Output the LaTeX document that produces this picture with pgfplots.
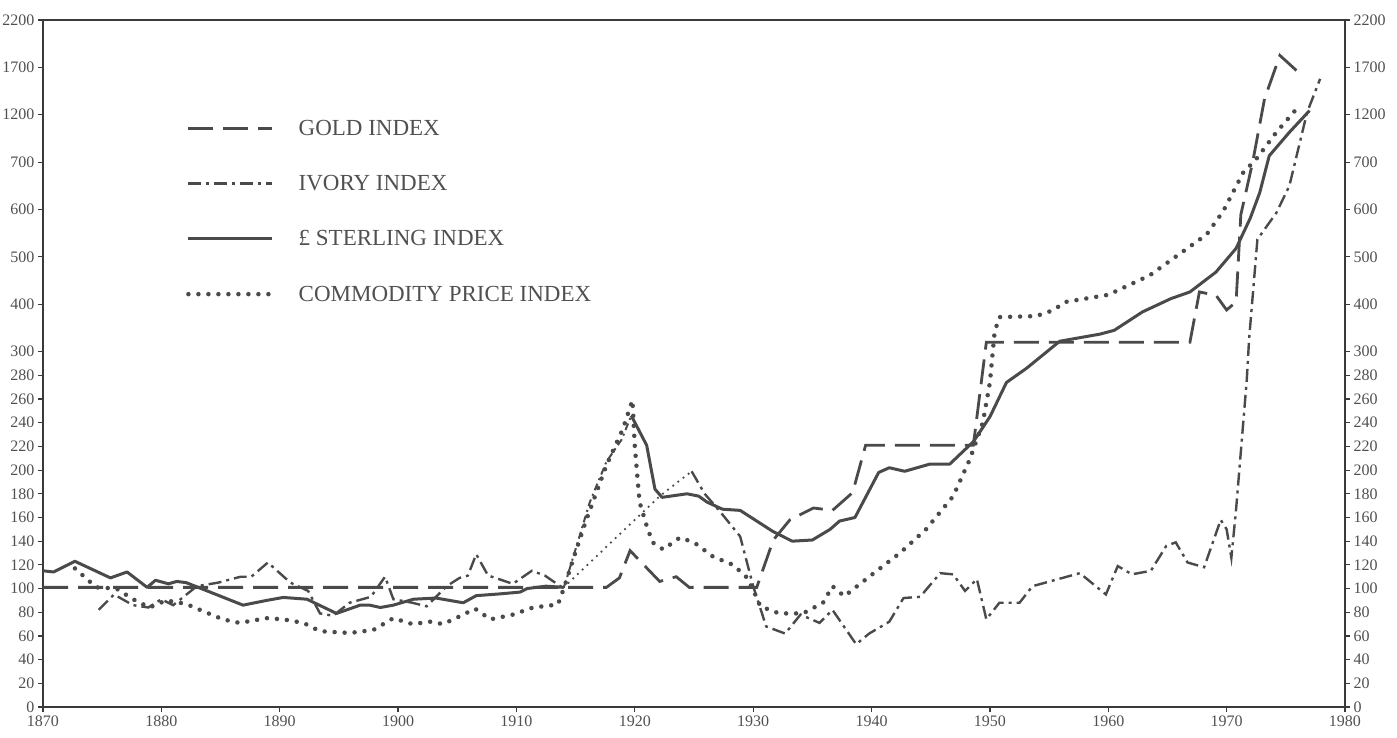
\documentclass[border=0pt]{standalone}
\usepackage{pgfplots}
\pgfplotsset{compat=1.18}
\usepackage{fontspec}
\setmainfont{Liberation Serif}
\definecolor{ink}{HTML}{4A4A4A}
\definecolor{axisink}{HTML}{3A3A3A}
\definecolor{labink}{HTML}{505050}

\pgfplotsset{
  common/.style={
    scale only axis, width=1302pt, height=687pt,
    at={(0pt,0pt)}, anchor=south west,
    xmin=1870, xmax=1980, ymin=0, ymax=2200,
    y coord trafo/.code={\pgfmathparse{(##1<=300)*(##1/20)+(##1>300)*(##1<=700)*(15+(##1-300)/50)+(##1>700)*(23+(##1-700)/250)}},
    y coord inv trafo/.code={\pgfmathparse{(##1<=15)*(##1*20)+(##1>15)*(##1<=23)*(300+(##1-15)*50)+(##1>23)*(700+(##1-23)*250)}},
    ytick={0,20,40,60,80,100,120,140,160,180,200,220,240,260,280,300,400,500,600,700,1200,1700,2200},
    yticklabels={0,20,40,60,80,100,120,140,160,180,200,220,240,260,280,300,400,500,600,700,1200,1700,2200},
    tick align=outside, major tick length=5pt,
    tick style={axisink, line width=1.2pt},
    axis line style={axisink, line width=2.6pt},
    tick label style={font=\fontsize{16}{18}\selectfont, text=labink},
    /pgf/number format/1000 sep={},
    /pgf/number format/assume math mode=true,
  },
  gold/.style={ink, line width=2.8pt, dash pattern=on 25pt off 10pt},
  ivory/.style={ink, line width=2.4pt, dash pattern=on 13pt off 5pt on 3pt off 5pt},
  sterling/.style={ink, line width=3pt, line join=round},
  commod/.style={ink, line width=4.5pt, line cap=round, dash pattern=on 0pt off 10pt},
  thindot/.style={ink, line width=2.5pt, line cap=round, dash pattern=on 0pt off 6.5pt},
  wardash/.style={ink, line width=2pt, dash pattern=on 7pt off 4pt on 2pt off 4pt},
}

\begin{document}
\begin{tikzpicture}
\useasboundingbox (-43pt,-30pt) rectangle (1354pt,707pt);
\begin{axis}[common,
  xtick={1870,1880,1890,1900,1910,1920,1930,1940,1950,1960,1970,1980},
  xtick pos=bottom, ytick pos=left,
  legend cell align=left,
  legend image code/.code={\draw[#1] (0pt,0pt) -- (84pt,0pt);},
  legend style={draw=none, fill=none, at={(0.1075,0.8575)}, anchor=north west,
    font=\fontsize{23}{27}\selectfont, text=labink, row sep=38.5pt,
    nodes={inner sep=0pt},
    /tikz/every odd column/.append style={column sep=24pt}},
]
% Gold index
\addplot[gold] coordinates {
(1870,101) (1917.6,101) (1918.7,109) (1919.6,132) (1922.1,106) (1923.5,110) (1924.6,101) (1930.3,101)
(1931.7,141) (1933.1,158) (1935.1,168) (1936.7,166) (1938.4,181) (1939.5,221) (1948.6,221) (1949.7,320)
(1966.9,320) (1967.7,426) (1969.1,419) (1970,388) (1970.8,405) (1971.2,589) (1972.2,700) (1973.2,1367)
(1974.5,1826) (1975.9,1667)};
\addlegendentry{GOLD INDEX}
% Ivory index (1874-1914)
\addplot[ivory] coordinates {
(1874.7,82) (1876,95) (1877.6,86) (1878.9,84) (1880,91) (1881,86) (1883,102) (1884.8,105) (1886.7,110)
(1887.6,110) (1889,122) (1890.9,105) (1892.4,98) (1893.4,79) (1894.5,77) (1895.9,88) (1897.7,93)
(1898.9,110) (1899.6,91) (1901.2,88) (1902.4,85) (1904.1,102) (1905.2,109) (1905.9,111) (1906.6,129)
(1907.6,111) (1909.7,104) (1911.3,115) (1912.4,111) (1913.7,102) (1914,101)};
\addlegendentry{IVORY INDEX}
% Sterling index
\addplot[sterling] coordinates {
(1870,115) (1870.9,114) (1872.7,123) (1875.7,109) (1877.1,114) (1878.8,101) (1879.5,107) (1880.6,104)
(1881.3,106) (1882.1,105) (1886.9,86) (1888.9,90) (1890.3,92.5) (1892.3,91) (1894.8,79) (1896.8,86)
(1897.6,86) (1898.5,84) (1899.6,86) (1901.3,91) (1903.2,92) (1905.5,88) (1906.6,94) (1908.6,95.5)
(1910.3,97) (1910.9,100) (1912.5,102) (1914,101)};
\addlegendentry{\pounds\ STERLING INDEX}
% Commodity price index
\addplot[commod] coordinates {
(1872.7,117) (1874.5,101) (1876.2,100) (1877.6,91) (1879,84) (1880.4,90) (1882.1,87) (1883.5,81)
(1885.2,74) (1886.6,71) (1888.9,75) (1890.3,74) (1892,71) (1893.4,64) (1895.9,62.5) (1897.9,65)
(1899.6,75) (1901.2,70) (1902.7,72) (1903.8,70) (1905.2,76.5) (1906.5,83) (1907.8,74) (1909.7,78)
(1911.4,84) (1913.5,86.5) (1914,100) (1914.8,125) (1915.9,158) (1917.6,204) (1919,235) (1919.8,259)
(1920,220) (1920.4,173) (1921,153) (1921.5,139) (1922.4,133) (1923.8,143) (1925,139) (1926.6,127)
(1928.3,120) (1929.4,110) (1930,99) (1930.6,85) (1932.2,79) (1934.2,79) (1935.9,88) (1936.7,102)
(1937.7,93.5) (1939.8,110) (1942.4,130) (1944.6,150) (1946.9,178) (1948.3,209) (1949.4,240) (1950,274)
(1950.4,342) (1950.8,373) (1953.9,375) (1955.3,387) (1956.4,405) (1958.1,412) (1960,420) (1963.5,461)
(1966.9,522) (1968.3,547) (1969.7,596) (1971.4,678) (1972.5,732) (1974.2,1015) (1975.9,1261)};
\addlegendentry{COMMODITY PRICE INDEX}
% Ivory: interpolated gap 1914-1925
\addplot[thindot, forget plot] coordinates {(1914,101) (1922.1,178) (1924.8,199)};
% Ivory 1925 onwards
\addplot[ivory, forget plot] coordinates {
(1924.8,199) (1925.9,180) (1927.2,165) (1928.9,144) (1930,102) (1931.1,68) (1932.7,62) (1934,78)
(1935.6,71) (1936.7,82) (1938.7,53) (1939.8,62) (1941.5,72) (1942.7,92) (1944.1,93) (1945.8,113)
(1946.9,112) (1947.9,98) (1948.9,108) (1949.7,74) (1950.8,88) (1952.5,88) (1953.6,102) (1957.6,113)
(1959.8,95) (1960.8,119) (1962,112) (1963.6,115) (1964.9,136) (1965.7,139) (1966.7,122) (1968.1,118)
(1969.5,158) (1970,150) (1970.4,126) (1970.8,167) (1971.7,276) (1971.9,327) (1972.6,537) (1974.2,593)
(1975.3,650) (1976.8,1226) (1977.9,1579)};
% Sterling: war years
\addplot[wardash, forget plot] coordinates {
(1914,101) (1914.2,107) (1916.2,173) (1917.6,207) (1918.9,226) (1919.7,246)};
% Sterling 1920 onwards
\addplot[sterling, forget plot] coordinates {
(1919.7,246) (1921,221) (1921.7,184) (1922.3,177) (1924.4,180) (1925.4,178) (1926.1,173) (1927.4,167)
(1928.9,166) (1931.7,148) (1933.3,140) (1935,141) (1936.5,150) (1937.3,157) (1938.6,160) (1940.6,198)
(1941.5,202) (1942.8,199) (1944.9,205) (1946.6,205) (1948.6,224) (1950,245) (1951.4,274) (1953.1,286)
(1955.9,322) (1959.3,337) (1960.5,345) (1962.9,384) (1965.3,412) (1966.9,426) (1969.1,468) (1970.8,518)
(1972,582) (1972.8,636) (1973.6,767) (1975.3,1015) (1977,1243)};
\end{axis}
\begin{axis}[common,
  hide x axis, axis y line*=right, ytick pos=right, yticklabel pos=right,
]
\end{axis}
\end{tikzpicture}
\end{document}
